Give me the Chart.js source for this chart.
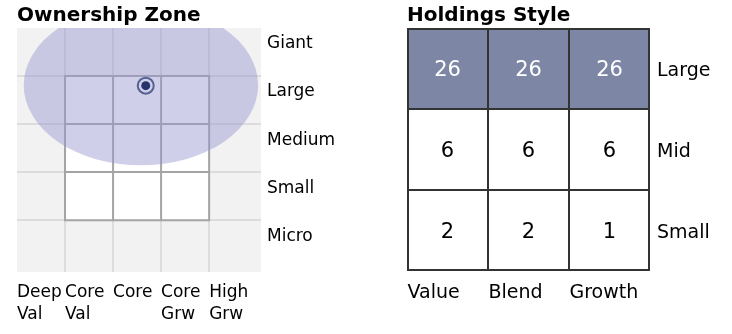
<!DOCTYPE html>
<html>
<head>
<meta charset="utf-8">
<script src="https://cdn.jsdelivr.net/npm/chart.js@4"></script>
<style>
html,body{margin:0;padding:0;background:#fff;}
#wrap{position:relative;width:732px;height:334px;overflow:hidden;}
#zone{position:absolute;left:0;top:0;}
#style{position:absolute;left:400px;top:0;}
</style>
</head>
<body>
<div id="wrap">
<canvas id="zone" width="400" height="334" style="width:400px;height:334px"></canvas>
<canvas id="style" width="332" height="334" style="width:332px;height:334px"></canvas>
</div>
<script>
// ---- Ownership Zone data ----
const zoneColumns = [['Deep','Val'],['Core','Val'],['Core'],['Core','Grw'],['High','Grw']];
const zoneRows = ['Giant','Large','Medium','Small','Micro'];
const centroidX = [2.68];           // style position of the fund centroid
const centroidY = [1.2];            // size position (0 = top row)
const zoneEllipse = [2.58, 1.19, 2.44, 1.67]; // centre x, centre y, radius x, radius y
const styleBoxCols = [1, 4];        // style box column span
const styleBoxRows = [1, 4];        // style box row span

// ---- Holdings Style data ----
const styleColumns = ['Value','Blend','Growth'];
const styleRows = ['Large','Mid','Small'];
const largeCounts = [26, 26, 26];
const midCounts = [6, 6, 6];
const smallCounts = [2, 2, 1];

Chart.defaults.font.family = 'DejaVu Sans';
Chart.defaults.color = '#000';

const FONT = 'DejaVu Sans';
const zoneMax = 5.08;

const zonePlugin = {
  id: 'zone',
  beforeDraw(chart) {
    const {ctx, chartArea: a} = chart;
    ctx.save();
    ctx.fillStyle = '#f2f2f2';
    ctx.fillRect(a.left, a.top, a.right - a.left, a.bottom - a.top);
    ctx.restore();
  },
  beforeDatasetsDraw(chart) {
    const {ctx, chartArea: a, scales: {x, y}} = chart;
    ctx.save();
    const x0 = x.getPixelForValue(styleBoxCols[0]), x1 = x.getPixelForValue(styleBoxCols[1]);
    const y0 = y.getPixelForValue(styleBoxRows[0]), y1 = y.getPixelForValue(styleBoxRows[1]);
    ctx.fillStyle = '#ffffff';
    ctx.fillRect(x0, y0, x1 - x0, y1 - y0);
    ctx.strokeStyle = '#a4a4a4';
    ctx.lineWidth = 2;
    ctx.beginPath();
    for (let c = styleBoxCols[0]; c <= styleBoxCols[1]; c++) {
      const px = x.getPixelForValue(c);
      ctx.moveTo(px, y0 - 1); ctx.lineTo(px, y1 + 1);
    }
    for (let r = styleBoxRows[0]; r <= styleBoxRows[1]; r++) {
      const py = y.getPixelForValue(r);
      ctx.moveTo(x0 - 1, py); ctx.lineTo(x1 + 1, py);
    }
    ctx.stroke();
    // ownership zone ellipse
    ctx.beginPath();
    ctx.rect(a.left, a.top, a.right - a.left, a.bottom - a.top);
    ctx.clip();
    const cx = x.getPixelForValue(zoneEllipse[0]);
    const cy = y.getPixelForValue(zoneEllipse[1]);
    const rx = Math.abs(x.getPixelForValue(zoneEllipse[0] + zoneEllipse[2]) - cx);
    const ry = Math.abs(y.getPixelForValue(zoneEllipse[1] + zoneEllipse[3]) - cy);
    ctx.beginPath();
    ctx.ellipse(cx, cy, rx, ry, 0, 0, Math.PI * 2);
    ctx.fillStyle = 'rgba(150,150,208,0.46)';
    ctx.fill();
    ctx.restore();
  }
};

const centroid = centroidX.map((v, i) => ({x: v, y: centroidY[i]}));

new Chart(document.getElementById('zone'), {
  type: 'scatter',
  data: {
    datasets: [
      {data: centroid, pointRadius: 8, pointBorderWidth: 2, pointBackgroundColor: 'rgba(0,0,0,0)', pointBorderColor: 'rgba(40,52,112,0.72)'},
      {data: centroid, pointRadius: 4.5, pointBorderWidth: 0, pointBackgroundColor: '#27336c'}
    ]
  },
  options: {
    responsive: false, animation: false, events: [],
    layout: {padding: {left: 17, right: 0, top: 0, bottom: 0}},
    plugins: {
      legend: {display: false}, tooltip: {enabled: false},
      title: {display: true, text: 'Ownership Zone', align: 'start', color: '#000',
        font: {family: FONT, size: 20, weight: 'bold', lineHeight: 1.2}, padding: {top: 4, bottom: 0}}
    },
    scales: {
      x: {
        type: 'linear', min: 0, max: zoneMax, position: 'bottom',
        afterBuildTicks: s => { s.ticks = zoneColumns.map((_, i) => ({value: i})); },
        afterFit: s => { s.height = 62; },
        grid: {color: c => c.index === 0 ? 'rgba(0,0,0,0)' : '#dcdcdc', lineWidth: 2, drawTicks: false, tickLength: 0},
        border: {display: false},
        ticks: {align: 'start', padding: 9.5, autoSkip: false, maxRotation: 0, color: '#000',
          font: {family: FONT, size: 17, lineHeight: 1.3},
          callback: (v, i) => zoneColumns[i]}
      },
      y: {
        type: 'linear', reverse: true, min: 0, max: zoneMax, position: 'right',
        afterBuildTicks: s => { s.ticks = zoneRows.map((_, i) => ({value: i})); },
        afterFit: s => { s.width = 0; },
        grid: {color: c => c.index === 0 ? 'rgba(0,0,0,0)' : '#dcdcdc', lineWidth: 2, drawTicks: false, tickLength: 0},
        border: {display: false},
        ticks: {display: false}
      },
      yRows: {
        axis: 'y', type: 'linear', reverse: true, min: 0, max: zoneMax, position: 'right',
        afterBuildTicks: s => { s.ticks = zoneRows.map((_, i) => ({value: i + 0.5})); },
        afterFit: s => { s.width = 139; },
        grid: {display: false, drawTicks: false, tickLength: 0},
        border: {display: false},
        ticks: {padding: 6, labelOffset: -8, autoSkip: false, color: '#000',
          font: {family: FONT, size: 17, lineHeight: 1.2},
          callback: (v, i) => zoneRows[i]}
      }
    }
  },
  plugins: [zonePlugin]
});

// ---- Holdings style box ----
const rowCounts = [largeCounts, midCounts, smallCounts];
const shaded = '#7d87a5';
const cellFill = v => v >= 10 ? shaded : '#ffffff';

const countsPlugin = {
  id: 'counts',
  afterDatasetsDraw(chart) {
    const {ctx} = chart;
    ctx.save();
    ctx.font = '21px "' + FONT + '"';
    ctx.textAlign = 'center';
    ctx.textBaseline = 'middle';
    chart.data.datasets.forEach((ds, di) => {
      const meta = chart.getDatasetMeta(di);
      meta.data.forEach((el, i) => {
        const v = rowCounts[di][i];
        ctx.fillStyle = v >= 10 ? '#ffffff' : '#000000';
        ctx.fillText(String(v), el.x, (el.y + el.base) / 2 + 2.5);
      });
    });
    ctx.restore();
  }
};

new Chart(document.getElementById('style'), {
  type: 'bar',
  data: {
    labels: styleColumns,
    datasets: styleRows.map((name, r) => ({
      label: name,
      data: styleColumns.map(() => [r, r + 1]),
      backgroundColor: rowCounts[r].map(cellFill),
      borderColor: '#333333',
      borderSkipped: false,
      inflateAmount: 0,
      borderWidth: c => ({
        left: c.dataIndex === 0 ? 2 : 1,
        right: c.dataIndex === styleColumns.length - 1 ? 2 : 1,
        top: r === 0 ? 2 : 1,
        bottom: r === styleRows.length - 1 ? 2 : 1
      }),
      barPercentage: 1, categoryPercentage: 1, grouped: false
    }))
  },
  options: {
    responsive: false, animation: false, events: [],
    layout: {padding: {left: 7, right: 0, top: 0, bottom: 0}},
    plugins: {
      legend: {display: false}, tooltip: {enabled: false},
      title: {display: true, text: 'Holdings Style', align: 'start', color: '#000',
        font: {family: FONT, size: 20, weight: 'bold', lineHeight: 1.2}, padding: {top: 4, bottom: 0}}
    },
    scales: {
      x: {
        type: 'category', offset: true,
        afterFit: s => { s.height = 63; },
        grid: {display: false, drawTicks: false, tickLength: 0},
        border: {display: false},
        ticks: {align: 'start', labelOffset: -40, padding: 10.5, color: '#000',
          font: {family: FONT, size: 19, lineHeight: 1.2}}
      },
      y: {
        type: 'linear', reverse: true, min: 0, max: styleRows.length, position: 'right',
        afterBuildTicks: s => { s.ticks = styleRows.map((_, i) => ({value: i + 0.5})); },
        afterFit: s => { s.width = 82; },
        grid: {display: false, drawTicks: false, tickLength: 0},
        border: {display: false},
        ticks: {padding: 7, labelOffset: 2.5, autoSkip: false, color: '#000',
          font: {family: FONT, size: 19, lineHeight: 1.2},
          callback: (v, i) => styleRows[i]}
      }
    }
  },
  plugins: [countsPlugin]
});
</script>
</body>
</html>
